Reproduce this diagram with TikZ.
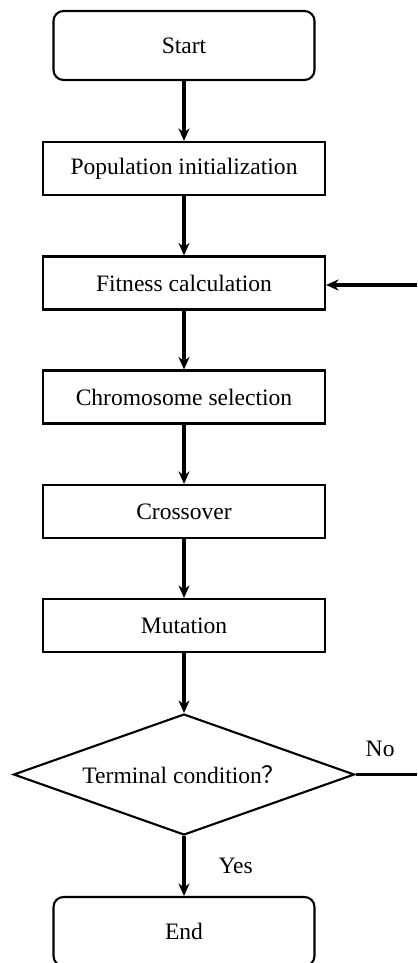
\documentclass[tikz,border=0pt]{standalone}
\usepackage{fontspec}
\setmainfont{Liberation Serif}
\newfontfamily\cjk{Noto Sans CJK SC}
\usetikzlibrary{arrows.meta, shapes.geometric}

\begin{document}
\begin{tikzpicture}[
    every node/.style={font=\fontsize{13.4}{16}\selectfont, align=center},
    box/.style={draw, line width=1.2pt, minimum width=5.64cm, minimum height=1.06cm},
    term/.style={draw, line width=1.2pt, rounded corners=0.2cm,
                 minimum width=5.22cm, minimum height=1.38cm},
    cond/.style={draw, diamond, line width=1.2pt, aspect=2.8,
                 minimum width=6.82cm, minimum height=2.42cm, inner sep=0pt},
    flow/.style={-{Stealth[length=0.25cm, width=0.22cm]}, line width=1.8pt}
]
\useasboundingbox (0,0) rectangle (8.34,-19.26);
\node[term] (start) at (3.68,-0.91) {Start};
\node[box] (init) at (3.68,-3.37) {Population initialization};
\node[box] (fit) at (3.68,-5.66) {Fitness calculation};
\node[box] (sel) at (3.68,-7.94) {Chromosome selection};
\node[box] (cross) at (3.68,-10.23) {Crossover};
\node[box] (mut) at (3.68,-12.51) {Mutation};
\node[cond] (check) at (3.68,-15.49) {Terminal condition{\cjk ？}};
\node[term] (finish) at (3.68,-18.63) {End};
\coordinate (noend) at (8.34,-15.49);
\coordinate (back) at (8.34,-5.70);
\draw[flow] (start) -- (init);
\draw[flow] (init) -- (fit);
\draw[flow] (fit) -- (sel);
\draw[flow] (sel) -- (cross);
\draw[flow] (cross) -- (mut);
\draw[flow] (mut) -- (check);
\draw[flow] (check) -- (finish) node[midway, right=0.66cm, inner sep=0pt] {Yes};
\draw[line width=1.8pt] (check.east) -- (noend) node[pos=0.4, above=0.33cm, inner sep=0pt] {No};
\draw[flow] (back) -- (fit.east |- back);
\end{tikzpicture}
\end{document}
